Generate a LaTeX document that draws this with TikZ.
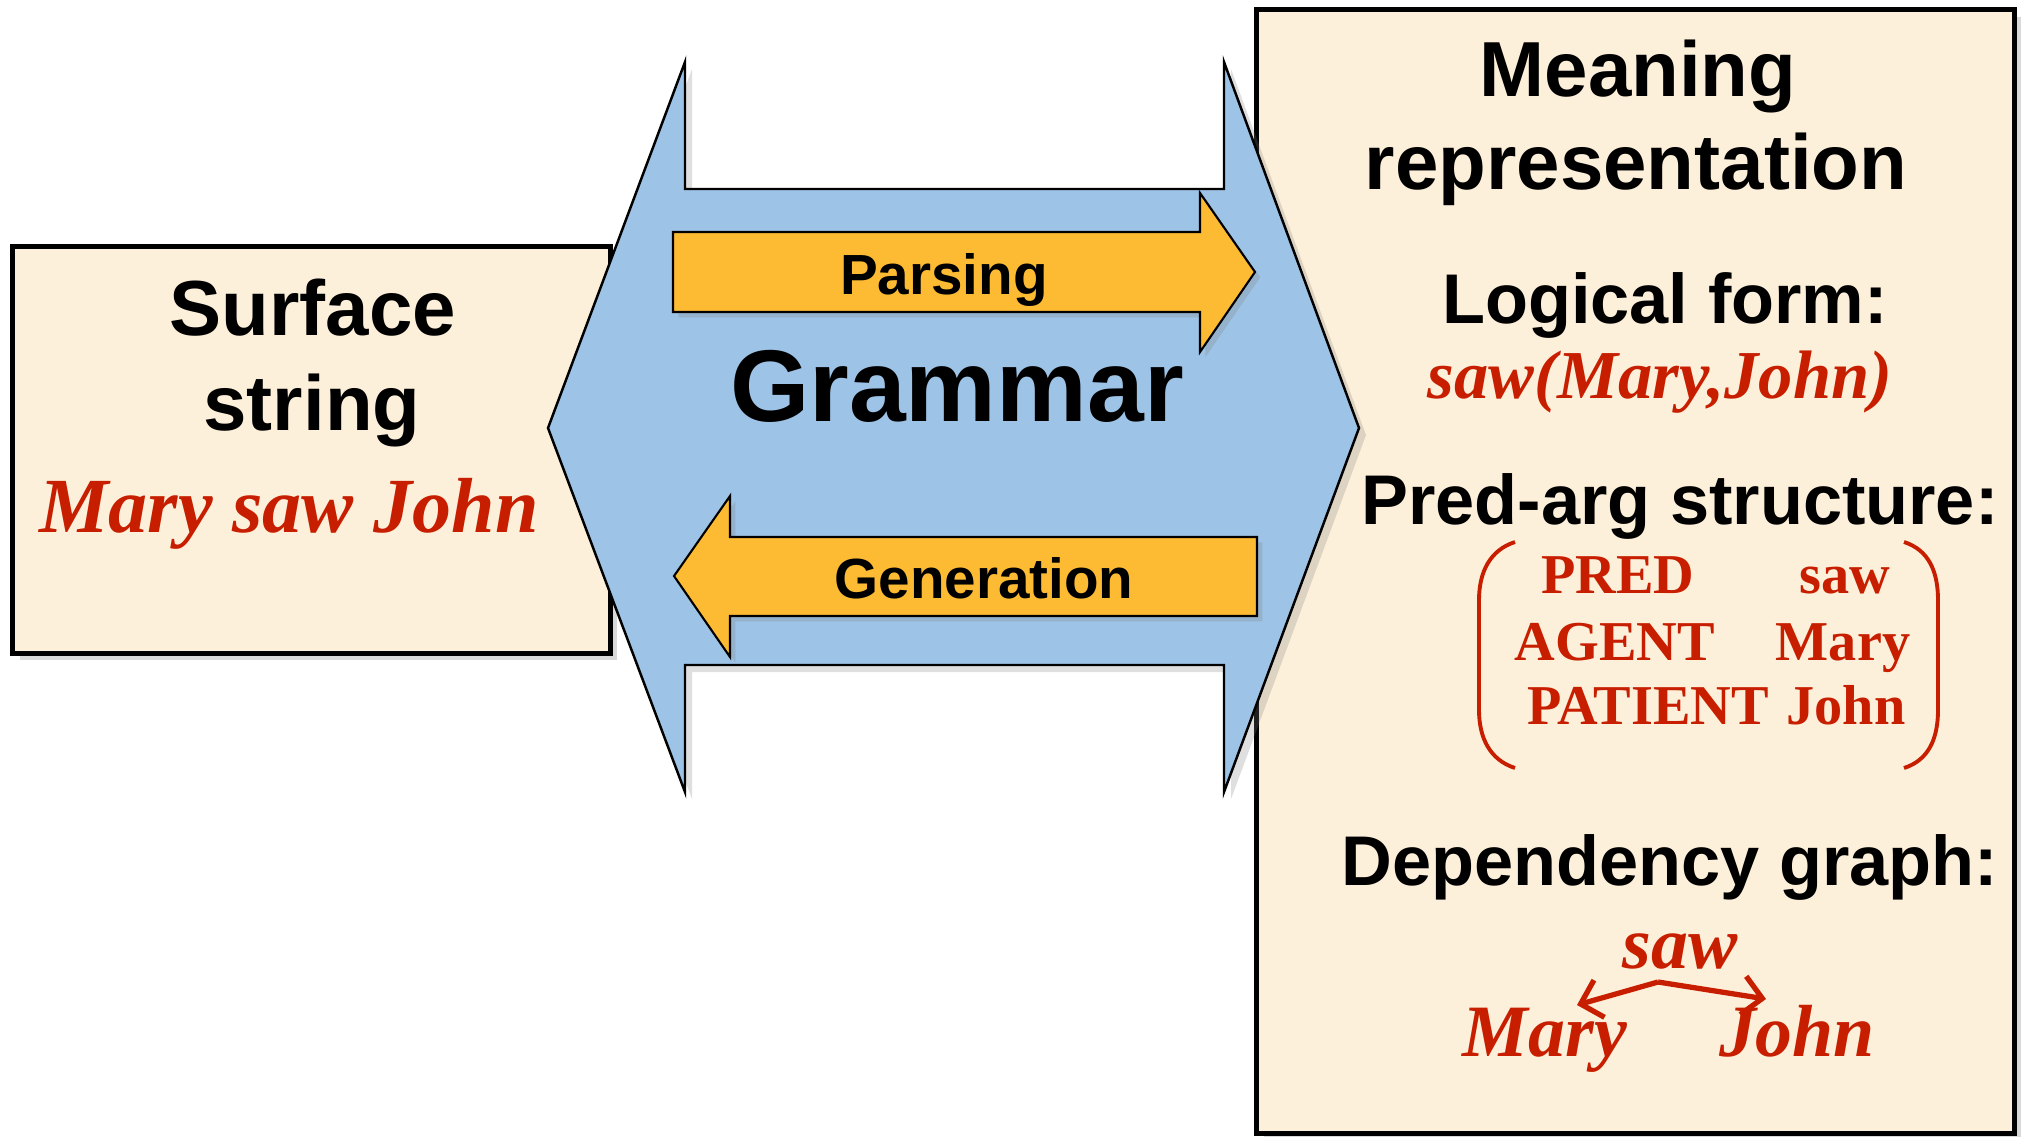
\documentclass[tikz,border=0pt]{standalone}
\usepackage{fontspec}
\setmainfont{Liberation Serif}
\setsansfont{Liberation Sans}
\usetikzlibrary{shadows,arrows.meta}

\definecolor{boxfill}{RGB}{253,240,218}
\definecolor{grammarblue}{RGB}{157,195,230}
\definecolor{dirorange}{RGB}{253,187,51}
\definecolor{exred}{RGB}{200,30,0}

\tikzstyle{repBox} = [rectangle, draw=black, line width=1.4pt, fill=boxfill, inner sep=0pt, drop shadow={opacity=0.3, shadow xshift=2pt, shadow yshift=-2pt}]
\tikzstyle{bigHead} = [anchor=base, inner sep=0pt, font=\sffamily\bfseries\fontsize{22.2pt}{26pt}\selectfont]
\tikzstyle{subHead} = [anchor=base, inner sep=0pt, font=\sffamily\bfseries\fontsize{20pt}{23pt}\selectfont]
\tikzstyle{dirLabel} = [anchor=base, inner sep=0pt, font=\sffamily\bfseries\fontsize{16.1pt}{19pt}\selectfont]
\tikzstyle{exItal} = [anchor=base, inner sep=0pt, text=exred]
\tikzstyle{exMat} = [anchor=base, inner sep=0pt, text=exred, font=\bfseries\fontsize{16pt}{18pt}\selectfont]
\tikzstyle{dirArrow} = [draw=black, line width=0.6pt, fill=dirorange, drop shadow={opacity=0.25, shadow xshift=1.5pt, shadow yshift=-1.5pt}]
\tikzstyle{depArrow} = [exred, line width=1.5pt, -{Straight Barb[length=5.5pt,width=11pt]}]

\begin{document}
\begin{tikzpicture}[x=0.01cm, y=-0.01cm]
    \useasboundingbox (0,0) rectangle (2021,1136);

    % the two boxes
    \node (surfaceBox)[repBox, minimum width=5.97cm, minimum height=4.06cm] at (311.5,450) {};
    \node (meaningBox)[repBox, minimum width=7.57cm, minimum height=11.23cm] at (1635.5,571.5) {};

    % grammar double arrow
    \draw[draw=black, line width=0.7pt, fill=grammarblue, drop shadow={opacity=0.25, shadow xshift=2pt, shadow yshift=-2pt}]
        (548,428) -- (685,62) -- (685,189) -- (1224,189) -- (1224,62) -- (1359,428)
        -- (1224,792) -- (1224,665) -- (685,665) -- (685,792) -- cycle;

    \draw[dirArrow] (673,232) -- (1200,232) -- (1200,193) -- (1255,272) -- (1200,352) -- (1200,312) -- (673,312) -- cycle;
    \draw[dirArrow] (1257,537) -- (730,537) -- (730,496) -- (674,576) -- (730,657) -- (730,616) -- (1257,616) -- cycle;

    \node (parsing)[dirLabel] at (944,294) {Parsing};
    \node (generation)[dirLabel] at (984,598) {Generation};
    \node (grammar)[anchor=base, inner sep=0pt, font=\sffamily\bfseries\fontsize{29pt}{34pt}\selectfont] at (957,421) {Grammar};

    % surface side
    \node (surface)[bigHead] at (313,335) {Surface};
    \node (string)[bigHead] at (312,430) {string};
    \node (sentence)[exItal, font=\bfseries\itshape\fontsize{22.2pt}{26pt}\selectfont] at (289,532) {Mary saw John};

    % meaning side
    \node (meaning)[bigHead] at (1638,96) {Meaning};
    \node (represent)[bigHead] at (1636,189) {representation};
    \node (logical)[subHead] at (1665,323) {Logical form:};
    \node (logForm)[exItal, font=\bfseries\itshape\fontsize{19.5pt}{23pt}\selectfont] at (1660,398) {saw(Mary,John)};
    \node (predarg)[subHead] at (1680,524) {Pred-arg structure:};

    \node (predKey)[exMat] at (1618,593) {PRED};
    \node (predVal)[exMat] at (1845,593) {saw};
    \node (agentKey)[exMat] at (1615,660) {AGENT};
    \node (agentVal)[exMat] at (1843,660) {Mary};
    \node (patientKey)[exMat] at (1648,724) {PATIENT};
    \node (patientVal)[exMat] at (1846,724) {John};
    \draw[exred, line width=1.1pt] (1515,542) .. controls (1490,550) and (1479,572) .. (1479,600)
        -- (1479,710) .. controls (1479,738) and (1490,760) .. (1515,768);
    \draw[exred, line width=1.1pt] (1904,542) .. controls (1929,550) and (1938,572) .. (1938,600)
        -- (1938,710) .. controls (1938,738) and (1929,760) .. (1904,768);

    \node (depgraph)[subHead] at (1670,885) {Dependency graph:};
    \node (depSaw)[exItal, font=\bfseries\itshape\fontsize{21pt}{25pt}\selectfont] at (1680,968) {saw};
    \node (depMary)[exItal, font=\bfseries\itshape\fontsize{21pt}{25pt}\selectfont] at (1545,1056) {Mary};
    \node (depJohn)[exItal, font=\bfseries\itshape\fontsize{21pt}{25pt}\selectfont] at (1797,1056) {John};
    \coordinate (depRoot) at (1658,982);
    \coordinate (maryTip) at (1577,1005);
    \coordinate (johnTip) at (1766,999);
    \draw[depArrow] (depRoot) -- (maryTip);
    \draw[depArrow] (depRoot) -- (johnTip);

\end{tikzpicture}
\end{document}
